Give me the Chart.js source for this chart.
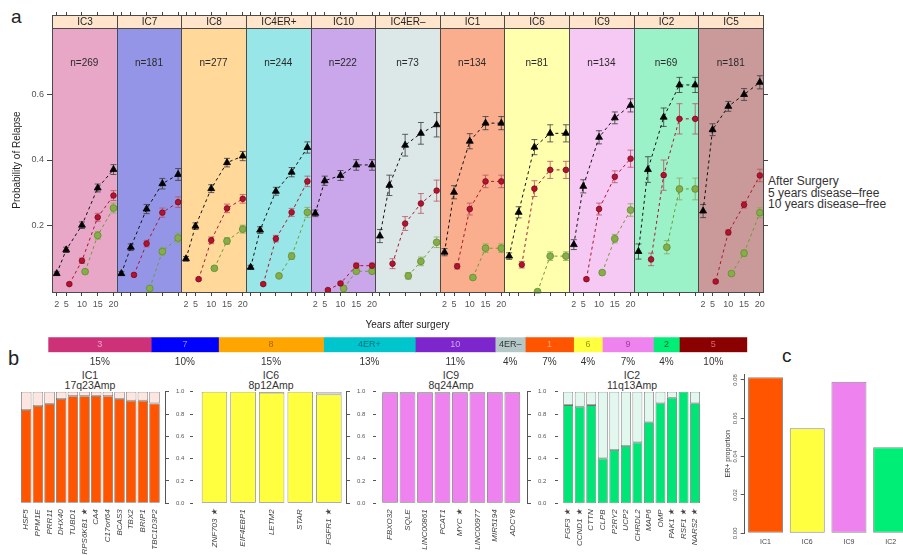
<!DOCTYPE html>
<html>
<head>
<meta charset="utf-8">
<script src="https://cdn.jsdelivr.net/npm/chart.js@4.4.1/dist/chart.umd.min.js"></script>
<style>
  html, body { margin: 0; padding: 0; background: #fff; width: 903px; height: 555px; overflow: hidden; }
  body { position: relative; font-family: "Liberation Sans", Arial, Helvetica, sans-serif; color: #222; }
  canvas { position: absolute; }
  .txt { position: absolute; white-space: nowrap; line-height: 1; }
  .ctr { transform: translateX(-50%); }
</style>
</head>
<body>
<div class="txt" style="left:11px;top:7px;font-size:19px;">a</div>
<div class="txt" style="left:8px;top:348px;font-size:20px;">b</div>
<div class="txt" style="left:782px;top:346px;font-size:19px;">c</div>
<div id="legend"></div>
<div id="geneTitles"></div>

<canvas id="relapse" width="903" height="340" style="left:0;top:0;"></canvas>
<canvas id="subtypeBar" width="903" height="40" style="left:0;top:330px;"></canvas>
<canvas id="genesIC1" width="200" height="185" style="left:0;top:370px;"></canvas>
<canvas id="genesIC6" width="195" height="185" style="left:186px;top:370px;"></canvas>
<canvas id="genesIC9" width="193" height="185" style="left:369px;top:370px;"></canvas>
<canvas id="genesIC2" width="160" height="185" style="left:551px;top:370px;"></canvas>
<canvas id="erShare" width="215" height="195" style="left:700px;top:360px;"></canvas>

<script>
// ---------- panel a: relapse probability by integrative cluster ----------
const panels = ['IC3', 'IC7', 'IC8', 'IC4ER+', 'IC10', 'IC4ER–', 'IC1', 'IC6', 'IC9', 'IC2', 'IC5'];
const panelN = [269, 181, 277, 244, 222, 73, 134, 81, 134, 69, 181];
const tickYears = [2, 5, 10, 15, 20];
const probTicks = [0.2, 0.4, 0.6];

const yearsAfterSurgery = [2, 5, 10, 15, 20];
const yearsFree5 = [6, 10, 15, 20];
const yearsFree10 = [11, 15, 20];

const relapseAfterSurgery = [
  [0.055, 0.127, 0.202, 0.315, 0.371],
  [0.055, 0.135, 0.251, 0.328, 0.356],
  [0.100, 0.199, 0.313, 0.392, 0.412],
  [0.074, 0.187, 0.305, 0.363, 0.438],
  [0.238, 0.337, 0.353, 0.385, 0.385],
  [0.169, 0.323, 0.445, 0.481, 0.507],
  [0.120, 0.302, 0.457, 0.512, 0.512],
  [0.108, 0.241, 0.439, 0.481, 0.481],
  [0.143, 0.320, 0.469, 0.528, 0.566],
  [0.122, 0.371, 0.530, 0.628, 0.628],
  [0.245, 0.492, 0.563, 0.599, 0.636]
];
const relapseFree5 = [
  [0.023, 0.094, 0.226, 0.292],
  [0.051, 0.146, 0.240, 0.272],
  [0.038, 0.156, 0.253, 0.282],
  [0.023, 0.161, 0.241, 0.335],
  [0.005, 0.025, 0.079, 0.079],
  [0.085, 0.207, 0.268, 0.307],
  [0.077, 0.251, 0.335, 0.335],
  [0.082, 0.313, 0.370, 0.370],
  [0.038, 0.251, 0.349, 0.404],
  [0.098, 0.354, 0.525, 0.525],
  [0.031, 0.180, 0.264, 0.353]
];
const relapseFree10 = [
  [0.061, 0.171, 0.254],
  [0.010, 0.122, 0.163],
  [0.071, 0.154, 0.190],
  [0.048, 0.108, 0.241],
  [0.010, 0.062, 0.062],
  [0.048, 0.092, 0.150],
  [0.043, 0.132, 0.132],
  [0.000, 0.108, 0.108],
  [0.058, 0.161, 0.248],
  [0.135, 0.312, 0.312],
  [0.055, 0.117, 0.240]
];
// half-widths of the confidence bars
const errAfterSurgery = [
  [0.005, 0.008, 0.010, 0.012, 0.015],
  [0.006, 0.010, 0.014, 0.016, 0.018],
  [0.007, 0.010, 0.012, 0.013, 0.014],
  [0.006, 0.010, 0.012, 0.014, 0.017],
  [0.010, 0.014, 0.015, 0.016, 0.016],
  [0.020, 0.031, 0.033, 0.033, 0.037],
  [0.011, 0.020, 0.023, 0.020, 0.020],
  [0.010, 0.017, 0.023, 0.026, 0.026],
  [0.015, 0.020, 0.020, 0.018, 0.020],
  [0.023, 0.039, 0.028, 0.023, 0.023],
  [0.020, 0.018, 0.015, 0.018, 0.020]
];
const errFree5 = [
  [0.004, 0.008, 0.012, 0.015],
  [0.005, 0.010, 0.014, 0.016],
  [0.004, 0.010, 0.013, 0.013],
  [0.004, 0.010, 0.012, 0.016],
  [0.003, 0.005, 0.008, 0.008],
  [0.015, 0.021, 0.030, 0.032],
  [0.008, 0.018, 0.019, 0.019],
  [0.010, 0.024, 0.026, 0.026],
  [0.005, 0.018, 0.018, 0.026],
  [0.019, 0.046, 0.046, 0.046],
  [0.005, 0.008, 0.010, 0.019]
];
const errFree10 = [
  [0.006, 0.012, 0.015],
  [0.004, 0.012, 0.015],
  [0.006, 0.010, 0.012],
  [0.005, 0.010, 0.015],
  [0.003, 0.007, 0.007],
  [0.010, 0.013, 0.016],
  [0.005, 0.013, 0.013],
  [0.005, 0.013, 0.013],
  [0.006, 0.013, 0.019],
  [0.020, 0.033, 0.033],
  [0.006, 0.010, 0.015]
];
const seriesNames = ['After Surgery', '5 years disease–free', '10 years disease–free'];
const panelFill = ['#E9A7C8', '#9595E8', '#FFD89A', '#98E6E8', '#C9A7EA', '#DCE8E8',
                   '#FAAE8D', '#FFFFAE', '#F6C8F4', '#9CF2C8', '#CA9A9A'];

// ---------- subtype share bar ----------
const subtypeLabels = ['3', '7', '8', '4ER+', '10', '4ER–', '1', '6', '9', '2', '5'];
const subtypeShare = [14.7, 9.6, 15.0, 13.1, 11.4, 4.3, 6.9, 4.1, 7.3, 3.7, 9.7];
const subtypeColor = ['#CD3278', '#0000FF', '#FFA500', '#00C5CD', '#7D26CD', '#B4C8C8',
                      '#FF5500', '#FFFF40', '#EE82EE', '#00EE76', '#8B0000'];
const subtypeTextColor = ['#F6A6CC', '#8A8AFF', '#A86400', '#00707A', '#CDA6F2', '#333333',
                          '#FFA878', '#9A9A00', '#A03CA0', '#006A35', '#E06A6A'];

// ---------- panel b: ER+ share per amplified gene ----------
const ic1Genes = ['HSF5', 'PPM1E', 'PRR11', 'DHX40', 'TUBD1', 'RPS6KB1 ★', 'CA4', 'C17orf64', 'BCAS3', 'TBX2', 'BRIP1', 'TBC1D3P2'];
const ic1Share = [0.836, 0.872, 0.890, 0.935, 0.960, 0.960, 0.963, 0.960, 0.935, 0.920, 0.920, 0.895];
const ic6Genes = ['ZNF703 ★', 'EIF4EBP1', 'LETM2', 'STAR', 'FGFR1 ★'];
const ic6Share = [1.000, 1.000, 0.990, 1.000, 0.975];
const ic9Genes = ['FBXO32', 'SQLE', 'LINC00861', 'PCAT1', 'MYC ★', 'LINC00977', 'MIR5194', 'ADCY8'];
const ic9Share = [0.990, 0.990, 0.990, 0.990, 0.990, 0.990, 0.990, 0.990];
const ic2Genes = ['FGF3 ★', 'CCND1 ★', 'CTTN', 'CLPB', 'P2RY2', 'UCP2', 'CHRDL2', 'MAP6', 'OMP', 'PAK1 ★', 'RSF1 ★', 'NARS2 ★'];
const ic2Share = [0.880, 0.866, 0.880, 0.403, 0.478, 0.513, 0.546, 0.726, 0.896, 0.946, 1.000, 0.896];
const geneTitles = [['IC1', '17q23Amp'], ['IC6', '8p12Amp'], ['IC9', '8q24Amp'], ['IC2', '11q13Amp']];

// ---------- panel c ----------
const erGroups = ['IC1', 'IC6', 'IC9', 'IC2'];
const erProportion = [0.0814, 0.0548, 0.0791, 0.0449];
const erColors = ['#FF5500', '#FFFF40', '#EE82EE', '#00EE76'];
const erTicks = [0, 0.02, 0.04, 0.06, 0.08];

Chart.defaults.font.family = '"Liberation Sans", Arial, Helvetica, sans-serif';
Chart.defaults.animation = false;
Chart.defaults.plugins.legend.display = false;
Chart.defaults.plugins.tooltip.enabled = false;

// ===== panel a =====
const PANEL_SPAN = 20.5, X_START = 0.5;
const xOf = (k, yr) => k * PANEL_SPAN + yr;
const panelTicks = [];
panels.forEach((_, k) => tickYears.forEach(t => panelTicks.push(xOf(k, t))));
const X_END = X_START + panels.length * PANEL_SPAN;

const series = [
  { years: yearsAfterSurgery, values: relapseAfterSurgery, err: errAfterSurgery,
    line: '#111111', fill: '#000000', edge: '#000000', bar: '#3a3a3a', style: 'triangle', r: 4 },
  { years: yearsFree5, values: relapseFree5, err: errFree5,
    line: '#A8182F', fill: '#B5122F', edge: '#7A0A1E', bar: '#B85060', style: 'circle', r: 2.8 },
  { years: yearsFree10, values: relapseFree10, err: errFree10,
    line: '#6E9A38', fill: '#86AE48', edge: '#628C30', bar: '#86A85A', style: 'circle', r: 3.4 }
];

const relapseDatasets = series.map((s, si) => {
  const data = [];
  panels.forEach((_, k) => {
    s.values[k].forEach((v, i) => data.push({ x: xOf(k, s.years[i]), y: v }));
    data.push({ x: xOf(k, 20.9), y: null }); // break the line between panels
  });
  return {
    label: seriesNames[si], data,
    borderColor: s.line, borderWidth: 1, borderDash: [3, 3],
    pointStyle: s.style, pointRadius: s.r, pointBackgroundColor: s.fill,
    pointBorderColor: s.edge, pointBorderWidth: 0.8, spanGaps: false, fill: false
  };
});

const panelDecor = {
  id: 'panelDecor',
  beforeDatasetsDraw(chart) {
    const { ctx, chartArea: { top, bottom }, scales: { x, y } } = chart;
    ctx.save();
    panels.forEach((_, k) => {
      const l = x.getPixelForValue(X_START + k * PANEL_SPAN);
      const r = x.getPixelForValue(X_START + (k + 1) * PANEL_SPAN);
      ctx.fillStyle = panelFill[k];
      ctx.fillRect(l, top, r - l, bottom - top);
      ctx.fillStyle = '#2a2a2a';
      ctx.font = '10px "Liberation Sans", Arial, sans-serif';
      ctx.textAlign = 'center'; ctx.textBaseline = 'middle';
      ctx.fillText('n=' + panelN[k], (l + r) / 2, top + 35);
    });
    // confidence bars
    series.forEach(s => {
      ctx.strokeStyle = s.bar; ctx.lineWidth = 0.8;
      panels.forEach((_, k) => s.values[k].forEach((v, i) => {
        const e = s.err[k][i];
        const cx = x.getPixelForValue(xOf(k, s.years[i]));
        const y1 = y.getPixelForValue(v - e), y2 = y.getPixelForValue(v + e);
        ctx.beginPath();
        ctx.moveTo(cx, y1); ctx.lineTo(cx, y2);
        ctx.moveTo(cx - 3, y1); ctx.lineTo(cx + 3, y1);
        ctx.moveTo(cx - 3, y2); ctx.lineTo(cx + 3, y2);
        ctx.stroke();
      }));
    });
    ctx.restore();
  },
  afterDatasetsDraw(chart) {
    const { ctx, chartArea: { top, bottom }, scales: { x } } = chart;
    ctx.save();
    ctx.strokeStyle = '#4a4a4a'; ctx.lineWidth = 1;
    panels.forEach((_, k) => {
      const l = Math.round(x.getPixelForValue(X_START + k * PANEL_SPAN)) + 0.5;
      const r = Math.round(x.getPixelForValue(X_START + (k + 1) * PANEL_SPAN)) + 0.5;
      ctx.strokeRect(l, Math.round(top) + 0.5, r - l, Math.round(bottom - top));
    });
    ctx.restore();
  },
  afterDraw(chart) {
    const { ctx, chartArea: { top }, scales: { x } } = chart;
    ctx.save();
    const st = Math.round(top) - 13 + 0.5;
    panels.forEach((name, k) => {
      const l = Math.round(x.getPixelForValue(X_START + k * PANEL_SPAN)) + 0.5;
      const r = Math.round(x.getPixelForValue(X_START + (k + 1) * PANEL_SPAN)) + 0.5;
      ctx.fillStyle = '#FFE5CC';
      ctx.fillRect(l, st, r - l, 13);
      ctx.strokeStyle = '#4a4a4a'; ctx.lineWidth = 1;
      ctx.strokeRect(l, st, r - l, 13);
      ctx.fillStyle = '#222';
      ctx.font = '10px "Liberation Sans", Arial, sans-serif';
      ctx.textAlign = 'center'; ctx.textBaseline = 'middle';
      ctx.fillText(name, (l + r) / 2, st + 7);
    });
    ctx.restore();
  }
};

const setTicks = list => axis => { axis.ticks = list.map(v => ({ value: v })); };

new Chart(document.getElementById('relapse'), {
  type: 'line',
  data: { datasets: relapseDatasets },
  options: {
    responsive: false,
    layout: { padding: 0 },
    scales: {
      x: {
        type: 'linear', min: X_START, max: X_END,
        afterBuildTicks: setTicks(panelTicks),
        afterFit: a => { a.height = 48; },
        grid: { drawOnChartArea: false, drawTicks: true, tickLength: 4, color: '#444' },
        border: { display: false },
        ticks: {
          autoSkip: false, maxRotation: 0, minRotation: 0, padding: 3,
          font: { size: 9 }, color: '#555',
          callback: v => {
            const k = Math.floor((v - X_START) / PANEL_SPAN);
            return k % 2 === 0 ? String(Math.round(v - k * PANEL_SPAN)) : '';
          }
        },
        title: { display: true, text: 'Years after surgery', font: { size: 10 }, color: '#222',
                 padding: { top: 0, bottom: 9 } }
      },
      xTop: {
        type: 'linear', axis: 'x', position: 'top', min: X_START, max: X_END,
        afterBuildTicks: setTicks(panelTicks),
        afterFit: a => { a.height = 28; },
        grid: { drawOnChartArea: false, drawTicks: true, tickLength: 16, color: '#444' },
        border: { display: false },
        ticks: { display: false }
      },
      y: {
        min: -0.001, max: 0.801,
        afterBuildTicks: setTicks(probTicks),
        afterFit: a => { a.width = 52; },
        grid: { drawOnChartArea: false, drawTicks: true, tickLength: 5, color: '#444' },
        border: { display: false },
        ticks: { padding: 3, font: { size: 9 }, color: '#555', callback: v => v.toFixed(1) },
        title: { display: true, text: 'Probability of Relapse', font: { size: 10 }, color: '#222',
                 padding: { top: 11, bottom: 0 } }
      },
      yRight: {
        type: 'linear', axis: 'y', position: 'right', min: -0.001, max: 0.801,
        afterBuildTicks: setTicks(probTicks),
        afterFit: a => { a.width = 140; },
        grid: { drawOnChartArea: false, drawTicks: true, tickLength: 5, color: '#444' },
        border: { display: false },
        ticks: { display: false }
      }
    }
  },
  plugins: [panelDecor]
});

// legend text next to panel a
const legendTops = [174.8, 186.5, 198.1];
document.getElementById('legend').innerHTML = seriesNames.map((n, i) =>
  `<div class="txt" style="left:768px;top:${legendTops[i]}px;font-size:12px;color:#333;">${n}</div>`).join('');

// ===== subtype share bar =====
const shareTotal = subtypeShare.reduce((a, b) => a + b, 0);
const subtypeLabelsPlugin = {
  id: 'subtypeLabels',
  afterDatasetsDraw(chart) {
    const { ctx, chartArea } = chart;
    ctx.save();
    ctx.textAlign = 'center'; ctx.textBaseline = 'middle';
    chart.data.datasets.forEach((ds, i) => {
      const el = chart.getDatasetMeta(i).data[0];
      const cx = (el.x + el.base) / 2;
      ctx.font = '9px "Liberation Sans", Arial, sans-serif';
      ctx.fillStyle = subtypeTextColor[i];
      ctx.fillText(subtypeLabels[i], cx, el.y);
      ctx.font = '10px "Liberation Sans", Arial, sans-serif';
      ctx.fillStyle = '#333';
      ctx.fillText(Math.round(subtypeShare[i]) + '%', cx, chartArea.bottom + 9.5);
    });
    ctx.restore();
  }
};
new Chart(document.getElementById('subtypeBar'), {
  type: 'bar',
  data: {
    labels: ['share'],
    datasets: subtypeShare.map((v, i) => ({
      label: subtypeLabels[i], data: [v], backgroundColor: subtypeColor[i],
      borderWidth: 0, barPercentage: 1, categoryPercentage: 1
    }))
  },
  options: {
    responsive: false, indexAxis: 'y',
    layout: { padding: { left: 48.3, right: 155.7, top: 7.3, bottom: 17.7 } },
    scales: {
      x: { stacked: true, display: false, min: 0, max: shareTotal },
      y: { stacked: true, display: false }
    }
  },
  plugins: [subtypeLabelsPlugin]
});

// ===== panel b =====
function geneChart(id, genes, share, color, restColor, geo) {
  const rest = share.map(v => +(1 - v).toFixed(3));
  const scales = {
    x: {
      type: 'linear', stacked: true, offset: false, min: geo.min, max: geo.max,
      afterBuildTicks: setTicks(genes.map((_, i) => i + 1)),
      afterFit: a => { a.height = 51.7; },
      grid: { display: false, drawTicks: false, offset: false },
      border: { display: false },
      ticks: {
        autoSkip: false, minRotation: 90, maxRotation: 90, padding: 6,
        font: { size: 8, style: 'italic' }, color: '#444',
        callback: v => genes[Math.round(v) - 1] || ''
      }
    },
    y: {
      stacked: true, min: 0, max: 1, position: 'right', display: geo.rightAxis,
      afterFit: a => { a.width = geo.rightWidth; },
      grid: { drawOnChartArea: false, drawTicks: true, tickLength: 4, color: '#555' },
      border: { display: true, color: '#555' },
      ticks: { stepSize: 0.2, padding: 7, font: { size: 6 }, color: '#555', callback: v => v.toFixed(1) }
    }
  };
  if (geo.leftTicks) {
    scales.yl = {
      type: 'linear', axis: 'y', position: 'left', min: 0, max: 1,
      afterFit: a => { a.width = 7; },
      grid: { drawOnChartArea: false, drawTicks: true, tickLength: 3, color: '#555' },
      border: { display: false },
      ticks: { display: false, stepSize: 0.2 }
    };
  }
  new Chart(document.getElementById(id), {
    type: 'bar',
    data: {
      datasets: [
        { data: share.map((v, i) => ({ x: i + 1, y: v })), backgroundColor: color },
        { data: rest.map((v, i) => ({ x: i + 1, y: v })), backgroundColor: restColor }
      ].map(d => Object.assign(d, {
        borderColor: '#707070', borderWidth: 0.8, borderSkipped: false,
        barPercentage: geo.barPct, categoryPercentage: 1
      }))
    },
    options: {
      responsive: false,
      layout: { padding: { left: geo.padLeft, right: geo.padRight, top: 21.7, bottom: 0 } },
      scales
    }
  });
}
geneChart('genesIC1', ic1Genes, ic1Share, '#FF5500', '#FCE6DF',
  { min: 0.5, max: 12.9, barPct: 0.9, padLeft: 20.4, padRight: 0, rightAxis: true, rightWidth: 35, leftTicks: false });
geneChart('genesIC6', ic6Genes, ic6Share, '#FFFF40', '#D4D4D4',
  { min: 0.25, max: 5.6, barPct: 0.89, padLeft: 0, padRight: 0, rightAxis: true, rightWidth: 35, leftTicks: true });
geneChart('genesIC9', ic9Genes, ic9Share, '#EE82EE', '#D9A6D9',
  { min: 0.196, max: 8.84, barPct: 0.9, padLeft: 0, padRight: 0, rightAxis: true, rightWidth: 35, leftTicks: true });
geneChart('genesIC2', ic2Genes, ic2Share, '#00E676', '#E2F8EF',
  { min: 0.117, max: 12.71, barPct: 0.86, padLeft: 0, padRight: 6, rightAxis: false, rightWidth: 0, leftTicks: true });

const titleCenters = [90, 271, 451, 632];
document.getElementById('geneTitles').innerHTML = geneTitles.map((t, i) =>
  `<div class="txt ctr" style="left:${titleCenters[i]}px;top:370.4px;font-size:10.5px;color:#333;">${t[0]}</div>` +
  `<div class="txt ctr" style="left:${titleCenters[i]}px;top:379.6px;font-size:10.5px;color:#333;">${t[1]}</div>`).join('');

// ===== panel c =====
const rotatedYLabels = {
  id: 'rotatedYLabels',
  afterDraw(chart) {
    const { ctx, scales: { y } } = chart;
    ctx.save();
    ctx.font = '6px "Liberation Sans", Arial, sans-serif';
    ctx.fillStyle = '#555';
    ctx.textAlign = 'center'; ctx.textBaseline = 'middle';
    y.ticks.forEach(t => {
      ctx.save();
      ctx.translate(y.right - 9, y.getPixelForValue(t.value));
      ctx.rotate(-Math.PI / 2);
      ctx.fillText(t.value.toFixed(2), 0, 0);
      ctx.restore();
    });
    ctx.restore();
  }
};
new Chart(document.getElementById('erShare'), {
  type: 'bar',
  data: {
    labels: erGroups,
    datasets: [{
      data: erProportion, backgroundColor: erColors, borderColor: '#8a8a8a',
      borderWidth: 1, borderSkipped: false, barPercentage: 0.84, categoryPercentage: 1
    }]
  },
  options: {
    responsive: false,
    layout: { padding: { left: 0, right: 3.5, top: 14.2, bottom: 0 } },
    scales: {
      x: {
        afterFit: a => { a.height = 21.7; },
        grid: { display: false, drawTicks: false },
        border: { display: false },
        ticks: { padding: 5, font: { size: 7 }, color: '#444' }
      },
      y: {
        min: 0, max: 0.083,
        afterBuildTicks: setTicks(erTicks),
        afterFit: a => { a.width = 44.7; },
        grid: { drawOnChartArea: false, drawTicks: true, tickLength: 4, color: '#555' },
        border: { display: true, color: '#555' },
        ticks: { callback: () => '' },
        title: { display: true, text: 'ER+ proportion', font: { size: 7 }, color: '#333',
                 padding: { top: 24, bottom: 0 } }
      }
    }
  },
  plugins: [rotatedYLabels]
});
</script>
</body>
</html>
